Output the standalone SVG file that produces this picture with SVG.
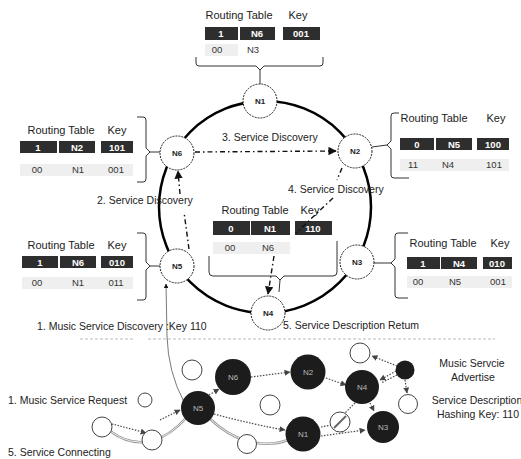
<svg xmlns="http://www.w3.org/2000/svg" width="521" height="459" viewBox="0 0 521 459">
<defs>
<style>
text{font-family:"Liberation Sans",Arial,sans-serif;fill:#222}
.hd{font-size:11px;text-anchor:middle}
.lb{font-size:10.5px}
.dk{fill:#2e2e2e}
.lc{fill:#efefef}
.dt{font-size:9.5px;font-weight:bold;fill:#fff;text-anchor:middle}
.lt{font-size:9.5px;fill:#333;text-anchor:middle}
.br{fill:none;stroke:#333;stroke-width:1}
.nd{fill:#fff;stroke:#222;stroke-width:1;stroke-dasharray:2 1}
.nt{font-size:8px;font-weight:bold;text-anchor:middle}
.bn{fill:#1c1c1c}
.bt{font-size:8px;fill:#bbb;text-anchor:middle}
.wn{fill:#fff;stroke:#444;stroke-width:1}
.dd{fill:none;stroke:#111;stroke-width:1.4;stroke-dasharray:5 3 1.5 3}
.dot{fill:none;stroke:#444;stroke-width:1.2;stroke-dasharray:1.5 1.5}
.gr{fill:none;stroke:#999;stroke-width:2.5}
.gw{fill:none;stroke:#fff;stroke-width:0.8}
.th{fill:none;stroke:#555;stroke-width:0.8}
</style>
<marker id="ah" viewBox="0 0 10 10" refX="9" refY="5" markerWidth="6" markerHeight="6" orient="auto-start-reverse">
<path d="M0,0 L10,5 L0,10 z" fill="#111"/>
</marker>
<marker id="as" viewBox="0 0 10 10" refX="9" refY="5" markerWidth="5" markerHeight="5" orient="auto-start-reverse">
<path d="M0,0 L10,5 L0,10 z" fill="#444"/>
</marker>
</defs>
<rect width="521" height="459" fill="#fff"/>

<!-- ring -->
<circle cx="265" cy="207" r="106" fill="none" stroke="#000" stroke-width="2.5"/>

<!-- tables -->
<g id="table-n1">
<text class="hd" x="239" y="19">Routing Table</text>
<text class="hd" x="298" y="19">Key</text>
<rect class="dk" x="205" y="27" width="33" height="13"/>
<rect class="dk" x="240" y="27" width="35" height="13"/>
<rect class="dk" x="283" y="27" width="37" height="13"/>
<text class="dt" x="221" y="37">1</text>
<text class="dt" x="257" y="37">N6</text>
<text class="dt" x="301" y="37">001</text>
<rect class="lc" x="205" y="44" width="33" height="12"/>
<text class="lt" x="217" y="53">00</text>
<text class="lt" x="253" y="53">N3</text>
<path class="br" d="M196,57 L196,63 Q196,66 199,66 L256,66 L260,70 L264,66 L320,66 Q323,66 323,63 L323,57 M260,70 L260,84"/>
</g>

<g id="table-n6">
<text class="hd" x="61" y="134">Routing Table</text>
<text class="hd" x="117" y="134">Key</text>
<rect class="dk" x="20" y="141" width="37" height="12"/>
<rect class="dk" x="59" y="141" width="36" height="12"/>
<rect class="dk" x="101" y="141" width="32" height="12"/>
<text class="dt" x="38" y="151">1</text>
<text class="dt" x="77" y="151">N2</text>
<text class="dt" x="117" y="151">101</text>
<rect class="lc" x="20" y="164" width="113" height="12"/>
<text class="lt" x="37" y="173">00</text>
<text class="lt" x="78" y="173">N1</text>
<text class="lt" x="116" y="173">001</text>
<path class="br" d="M137,117 L143,117 Q146,117 146,120 L146,148 L150,152 L146,156 L146,179 Q146,182 143,182 L137,182 M150,152 L160,152"/>
</g>

<g id="table-n2">
<text class="hd" x="434" y="122">Routing Table</text>
<text class="hd" x="496" y="122">Key</text>
<rect class="dk" x="400" y="138" width="34" height="12"/>
<rect class="dk" x="436" y="138" width="36" height="12"/>
<rect class="dk" x="477" y="138" width="32" height="12"/>
<text class="dt" x="417" y="148">0</text>
<text class="dt" x="454" y="148">N5</text>
<text class="dt" x="493" y="148">100</text>
<rect class="lc" x="400" y="159" width="109" height="12"/>
<text class="lt" x="413" y="168">11</text>
<text class="lt" x="448" y="168">N4</text>
<text class="lt" x="494" y="168">101</text>
<path class="br" d="M399,113 L394,113 Q391,113 391,116 L391,141 L387,145 L391,149 L391,175 Q391,178 394,178 L409,178 M387,145 L372,147"/>
</g>

<g id="table-n5">
<text class="hd" x="61" y="249">Routing Table</text>
<text class="hd" x="117" y="249">Key</text>
<rect class="dk" x="22" y="256" width="36" height="12"/>
<rect class="dk" x="60" y="256" width="36" height="12"/>
<rect class="dk" x="101" y="256" width="32" height="12"/>
<text class="dt" x="40" y="266">1</text>
<text class="dt" x="78" y="266">N6</text>
<text class="dt" x="117" y="266">010</text>
<rect class="lc" x="22" y="277" width="111" height="12"/>
<text class="lt" x="37" y="286">00</text>
<text class="lt" x="78" y="286">N1</text>
<text class="lt" x="116" y="286">011</text>
<path class="br" d="M137,233 L143,233 Q146,233 146,236 L146,262 L150,266 L146,270 L146,297 Q146,300 143,300 L137,300 M150,266 L160,266"/>
</g>

<g id="table-n3">
<text class="hd" x="443" y="247">Routing Table</text>
<text class="hd" x="500" y="247">Key</text>
<rect class="dk" x="407" y="257" width="33" height="12"/>
<rect class="dk" x="441" y="257" width="36" height="12"/>
<rect class="dk" x="483" y="257" width="29" height="12"/>
<text class="dt" x="423" y="267">1</text>
<text class="dt" x="459" y="267">N4</text>
<text class="dt" x="497" y="267">010</text>
<rect class="lc" x="407" y="276" width="105" height="12"/>
<text class="lt" x="418" y="285">00</text>
<text class="lt" x="455" y="285">N5</text>
<text class="lt" x="498" y="285">001</text>
<path class="br" d="M408,233 L398,233 Q395,233 395,236 L395,259 L391,263 L395,267 L395,295 Q395,298 398,298 L408,298 M391,263 L374,263"/>
</g>

<g id="table-n4">
<text class="hd" x="255" y="214">Routing Table</text>
<text class="hd" x="310" y="214">Key</text>
<rect class="dk" x="213" y="221" width="37" height="14"/>
<rect class="dk" x="251" y="221" width="39" height="14"/>
<rect class="dk" x="295" y="221" width="37" height="14"/>
<text class="dt" x="231" y="232">0</text>
<text class="dt" x="270" y="232">N1</text>
<text class="dt" x="313" y="232">110</text>
<rect class="lc" x="213" y="242" width="77" height="12"/>
<text class="lt" x="230" y="251">00</text>
<text class="lt" x="268" y="251">N6</text>
<path class="br" d="M209,256 L209,272 Q209,276 213,276 L276,276 L280,280 L284,276 L333,276 Q337,276 337,272 L337,241 M280,280 L279,292"/>
</g>

<!-- connectors -->
<g id="connectors">
<path class="dd" d="M195,152 L336,151" marker-end="url(#ah)"/>
<path class="dd" d="M189,249 L184,212"/>
<path class="dd" d="M180,194 L178,171" marker-end="url(#ah)"/>
<path class="dd" d="M342,168 L337,180"/>
<path class="dd" d="M333,198 L296,233"/>
<path class="dd" d="M274,256 L268,294" marker-end="url(#ah)"/>
<path class="th" d="M184,402 Q168,372 167,336 L166,284" marker-end="url(#ah)"/>
<path d="M80,339 L135,339 M148,339 L495,339" fill="none" stroke="#bbb" stroke-width="1" stroke-dasharray="3 2"/>

<!-- bottom cluster connectors -->
<path class="gr" d="M110,431 Q130,446 152,441 Q170,436 187,417 M209,418 Q228,436 247,441 Q270,447 288,440"/>
<path class="gw" d="M110,431 Q130,446 152,441 Q170,436 187,417 M209,418 Q228,436 247,441 Q270,447 288,440"/>
<path class="dot" d="M112,424 Q128,428 146,433" marker-end="url(#as)"/>
<path class="dot" d="M160,420 L180,410" marker-end="url(#as)"/>
<path class="dot" d="M209,395 L219,389" marker-end="url(#as)"/>
<path class="dot" d="M251,377 L290,372" marker-end="url(#as)"/>
<path class="dot" d="M326,378 L346,385" marker-end="url(#as)"/>
<path class="dot" d="M370,403 L374,411" marker-end="url(#as)"/>
<path class="dot" d="M214,414 Q255,425 285,430" marker-end="url(#as)"/>
<path class="dot" d="M321,436 L365,430" marker-end="url(#as)"/>
<path class="dot" d="M355,403 L345,413"/>
<path class="dot" d="M321,427 L332,425"/>
<path class="dot" d="M396,371 L380,380" marker-end="url(#as)"/>
<path class="dot" d="M397,375 L381,383"/>
<path class="dot" d="M397,366 L372,356" marker-end="url(#as)"/>
<path class="dot" d="M405,380 L407,393" marker-end="url(#as)"/>
</g>

<!-- ring nodes -->
<g id="n1"><circle class="nd" cx="260" cy="101" r="17"/><text class="nt" x="260" y="104">N1</text></g>
<g id="n2"><circle class="nd" cx="355" cy="151" r="17"/><text class="nt" x="355" y="154">N2</text></g>
<g id="n3"><circle class="nd" cx="357" cy="262" r="17"/><text class="nt" x="357" y="265">N3</text></g>
<g id="n4"><circle class="nd" cx="268" cy="313" r="17"/><text class="nt" x="268" y="316">N4</text></g>
<g id="n5"><circle class="nd" cx="177" cy="266" r="17"/><text class="nt" x="177" y="269">N5</text></g>
<g id="n6"><circle class="nd" cx="177" cy="153" r="17"/><text class="nt" x="177" y="156">N6</text></g>

<!-- bottom cluster nodes -->
<g id="b-n6"><circle class="bn" cx="233" cy="377" r="18"/><text class="bt" x="233" y="380">N6</text></g>
<g id="b-n2"><circle class="bn" cx="308" cy="372" r="17.5"/><text class="bt" x="308" y="375">N2</text></g>
<g id="b-n5"><circle class="bn" cx="198" cy="408" r="17"/><text class="bt" x="198" y="411">N5</text></g>
<g id="b-n1"><circle class="bn" cx="303" cy="434" r="17.5"/><text class="bt" x="303" y="437">N1</text></g>
<g id="b-n4"><circle class="bn" cx="362" cy="387" r="17"/><text class="bt" x="362" y="390">N4</text></g>
<g id="b-n3"><circle class="bn" cx="383" cy="427" r="16"/><text class="bt" x="383" y="430">N3</text></g>
<g id="b-adv"><circle class="bn" cx="405" cy="370" r="9.5"/></g>
<g id="b-w1"><circle class="wn" cx="192" cy="370" r="10"/></g>
<g id="b-w2"><circle class="wn" cx="270" cy="405" r="10"/></g>
<g id="b-w3"><circle class="wn" cx="247" cy="444" r="9.5"/></g>
<g id="b-w4"><circle class="wn" cx="360" cy="353" r="10"/></g>
<g id="b-w5"><circle class="wn" cx="408" cy="404" r="9.5"/></g>
<g id="b-w6"><circle class="wn" cx="340" cy="422" r="10"/><path d="M334,428 L346,416" stroke="#666" stroke-width="2" fill="none"/></g>
<g id="b-w7"><circle class="wn" cx="145" cy="400" r="7"/></g>
<g id="b-w8"><circle class="wn" cx="102" cy="427" r="10"/></g>
<g id="b-w9"><circle class="wn" cx="152" cy="440" r="10"/></g>

<!-- labels -->
<g id="labels">
<text class="lb" x="222" y="141">3. Service Discovery</text>
<text class="lb" x="288" y="193">4. Service Discovery</text>
<text class="lb" x="97" y="204">2. Service Discovery</text>
<text class="lb" x="37" y="330">1. Music Service Discovery :Key 110</text>
<text class="lb" x="283" y="329">5. Service Description Retum</text>
<text class="lb" x="8" y="404">1. Music Service Request</text>
<text class="lb" x="8" y="456">5. Service Connecting</text>
<text class="lb" x="472" y="367" text-anchor="middle">Music Servcie</text>
<text class="lb" x="473" y="381" text-anchor="middle">Advertise</text>
<text class="lb" x="477" y="404" text-anchor="middle">Service Description</text>
<text class="lb" x="478" y="418" text-anchor="middle">Hashing Key: 110</text>
</g>
</svg>
